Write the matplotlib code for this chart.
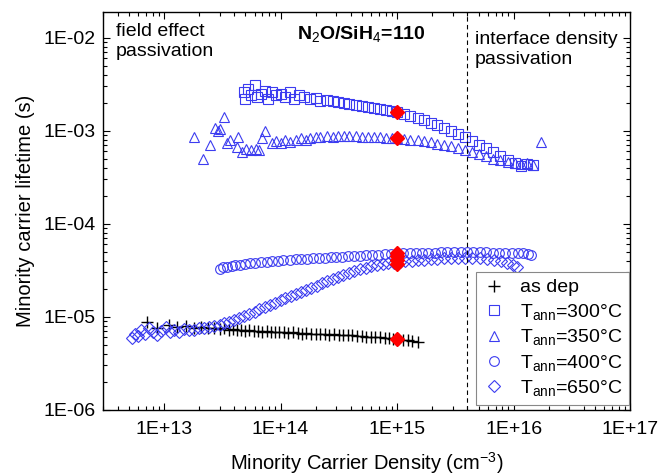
import numpy as np
import matplotlib
matplotlib.use("Agg")
import matplotlib.pyplot as plt
from matplotlib.ticker import FixedLocator, LogLocator, FuncFormatter, NullFormatter

plt.rcParams['font.family'] = ['Liberation Sans', 'DejaVu Sans']
plt.rcParams['mathtext.fontset'] = 'custom'
plt.rcParams['mathtext.rm'] = 'Liberation Sans'
plt.rcParams['mathtext.it'] = 'Liberation Sans:italic'
plt.rcParams['mathtext.bf'] = 'Liberation Sans:bold'

# as deposited
x_asdep = [7.2e12, 8.8e12, 1.1e13, 1.3e13, 1.55e13, 1.8e13, 2.1e13, 2.4e13, 2.7e13, 3.0e13,
           3.3e13, 3.6e13, 3.9e13, 4.2e13, 4.6e13, 5.0e13, 5.4e13, 5.9e13, 6.4e13, 7.0e13,
           7.6e13, 8.3e13, 9.0e13, 9.8e13, 1.07e14, 1.17e14, 1.28e14, 1.4e14, 1.53e14, 1.67e14,
           1.83e14, 2.0e14, 2.2e14, 2.4e14, 2.63e14, 2.88e14, 3.15e14, 3.45e14, 3.78e14, 4.14e14,
           4.53e14, 4.96e14, 5.43e14, 5.95e14, 6.5e14, 7.1e14, 7.8e14, 8.5e14, 9.3e14, 1.02e15,
           1.12e15, 1.23e15, 1.35e15, 1.5e15]
y_asdep = [8.9e-6, 7.6e-6, 8.2e-6, 7.7e-6, 8.0e-6, 7.6e-6, 7.8e-6, 7.5e-6, 7.6e-6, 7.4e-6,
           7.5e-6, 7.3e-6, 7.4e-6, 7.2e-6, 7.3e-6, 7.1e-6, 7.2e-6, 7.0e-6, 7.1e-6, 6.9e-6,
           7.0e-6, 6.9e-6, 6.8e-6, 6.9e-6, 6.8e-6, 6.7e-6, 6.8e-6, 6.7e-6, 6.6e-6, 6.7e-6,
           6.6e-6, 6.5e-6, 6.6e-6, 6.5e-6, 6.4e-6, 6.5e-6, 6.4e-6, 6.3e-6, 6.4e-6, 6.3e-6,
           6.2e-6, 6.2e-6, 6.1e-6, 6.1e-6, 6.0e-6, 6.0e-6, 5.9e-6, 5.9e-6, 5.8e-6, 5.8e-6,
           5.7e-6, 5.6e-6, 5.5e-6, 5.3e-6]

# Tann = 300 C
x_300 = [4.9e13, 5.0e13, 5.3e13, 5.6e13, 6.0e13, 6.3e13, 6.8e13, 7.3e13, 7.8e13, 8.5e13,
         9.2e13, 1.0e14, 1.1e14, 1.2e14, 1.3e14, 1.45e14, 1.6e14, 1.8e14, 2.0e14, 2.2e14,
         2.5e14, 2.8e14, 3.1e14, 3.5e14, 3.9e14, 4.4e14, 5.0e14, 5.6e14, 6.3e14, 7.1e14,
         8.0e14, 9.0e14, 1.0e15, 1.15e15, 1.3e15, 1.5e15, 1.7e15, 1.95e15, 2.2e15, 2.5e15,
         2.9e15, 3.3e15, 3.8e15, 4.4e15, 5.0e15, 5.8e15, 6.7e15, 7.7e15, 8.9e15, 1.02e16,
         1.15e16, 1.3e16, 1.45e16]
y_300 = [2.6e-3, 2.2e-3, 2.8e-3, 2.4e-3, 3.1e-3, 2.3e-3, 2.5e-3, 2.7e-3, 2.2e-3, 2.6e-3,
         2.4e-3, 2.5e-3, 2.3e-3, 2.6e-3, 2.2e-3, 2.4e-3, 2.3e-3, 2.2e-3, 2.25e-3, 2.1e-3,
         2.15e-3, 2.1e-3, 2.05e-3, 2.0e-3, 1.95e-3, 1.9e-3, 1.85e-3, 1.8e-3, 1.75e-3, 1.7e-3,
         1.66e-3, 1.62e-3, 1.6e-3, 1.52e-3, 1.45e-3, 1.37e-3, 1.3e-3, 1.22e-3, 1.15e-3, 1.08e-3,
         1.0e-3, 9.3e-4, 8.5e-4, 7.8e-4, 7.1e-4, 6.5e-4, 5.9e-4, 5.3e-4, 4.8e-4, 4.5e-4,
         4.2e-4, 4.4e-4, 4.3e-4]

# Tann = 350 C
x_350 = [1.8e13, 2.15e13, 2.47e13, 2.73e13, 2.9e13, 3.05e13, 3.25e13, 3.45e13, 3.7e13, 4.2e13,
         4.3e13, 4.7e13, 5.1e13, 5.6e13, 6.2e13, 6.6e13, 7.0e13, 7.4e13, 8.4e13, 9.2e13,
         1.0e14, 1.1e14, 1.2e14, 1.35e14, 1.5e14, 1.65e14, 1.8e14, 2.0e14, 2.2e14, 2.5e14,
         2.8e14, 3.1e14, 3.5e14, 3.9e14, 4.4e14, 5.0e14, 5.6e14, 6.3e14, 7.1e14, 8.0e14,
         9.0e14, 1.0e15, 1.15e15, 1.3e15, 1.5e15, 1.7e15, 1.95e15, 2.2e15, 2.5e15, 2.9e15,
         3.3e15, 3.8e15, 4.4e15, 5.0e15, 5.8e15, 6.7e15, 7.7e15, 8.9e15, 1.02e16, 1.15e16,
         1.3e16, 1.45e16, 1.7e16]
y_350 = [8.6e-4, 5.0e-4, 7.1e-4, 1.08e-3, 9.9e-4, 1.05e-3, 1.41e-3, 7.4e-4, 8.0e-4, 6.7e-4,
         8.6e-4, 5.9e-4, 6.4e-4, 6.2e-4, 6.3e-4, 6.2e-4, 8.4e-4, 1.0e-3, 7.4e-4, 7.8e-4,
         7.4e-4, 7.9e-4, 7.6e-4, 8.0e-4, 8.3e-4, 7.9e-4, 8.4e-4, 8.5e-4, 8.6e-4, 8.7e-4,
         8.6e-4, 8.8e-4, 8.7e-4, 8.8e-4, 8.7e-4, 8.6e-4, 8.6e-4, 8.5e-4, 8.5e-4, 8.4e-4,
         8.4e-4, 8.3e-4, 8.2e-4, 8.0e-4, 7.9e-4, 7.7e-4, 7.5e-4, 7.3e-4, 7.0e-4, 6.8e-4,
         6.5e-4, 6.2e-4, 5.9e-4, 5.6e-4, 5.3e-4, 5.0e-4, 4.8e-4, 4.6e-4, 4.5e-4, 4.4e-4,
         4.5e-4, 4.3e-4, 7.6e-4]

# Tann = 400 C
x_400 = [3.0e13, 3.2e13, 3.5e13, 3.8e13, 4.1e13, 4.5e13, 5.0e13, 5.5e13, 6.1e13, 6.8e13,
         7.6e13, 8.5e13, 9.5e13, 1.06e14, 1.2e14, 1.35e14, 1.5e14, 1.7e14, 1.9e14, 2.15e14,
         2.4e14, 2.7e14, 3.0e14, 3.4e14, 3.8e14, 4.3e14, 4.8e14, 5.4e14, 6.1e14, 6.9e14,
         7.8e14, 8.8e14, 1.0e15, 1.13e15, 1.28e15, 1.45e15, 1.65e15, 1.85e15, 2.1e15, 2.4e15,
         2.7e15, 3.1e15, 3.5e15, 4.0e15, 4.5e15, 5.1e15, 5.8e15, 6.6e15, 7.5e15, 8.5e15,
         9.6e15, 1.08e16, 1.2e16, 1.32e16, 1.4e16]
y_400 = [3.3e-5, 3.4e-5, 3.4e-5, 3.5e-5, 3.6e-5, 3.6e-5, 3.7e-5, 3.8e-5, 3.8e-5, 3.9e-5,
         3.9e-5, 4.0e-5, 4.0e-5, 4.1e-5, 4.1e-5, 4.2e-5, 4.2e-5, 4.2e-5, 4.3e-5, 4.3e-5,
         4.3e-5, 4.4e-5, 4.4e-5, 4.4e-5, 4.5e-5, 4.5e-5, 4.5e-5, 4.6e-5, 4.6e-5, 4.6e-5,
         4.7e-5, 4.7e-5, 4.7e-5, 4.8e-5, 4.8e-5, 4.8e-5, 4.9e-5, 4.9e-5, 4.9e-5, 5.0e-5,
         5.0e-5, 5.0e-5, 5.0e-5, 5.0e-5, 5.0e-5, 5.0e-5, 5.0e-5, 4.9e-5, 4.9e-5, 4.9e-5,
         4.8e-5, 4.8e-5, 4.8e-5, 4.7e-5, 4.6e-5]

# Tann = 650 C
x_650 = [5.3e12, 5.6e12, 6.0e12, 6.4e12, 6.9e12, 7.4e12, 8.0e12, 8.7e12, 9.5e12, 1.04e13,
         1.12e13, 1.22e13, 1.35e13, 1.5e13, 1.65e13, 1.8e13, 2.0e13, 2.2e13, 2.45e13, 2.7e13,
         3.0e13, 3.3e13, 3.6e13, 4.0e13, 4.4e13, 4.9e13, 5.4e13, 6.0e13, 6.6e13, 7.3e13,
         8.1e13, 9.0e13, 1.0e14, 1.1e14, 1.22e14, 1.35e14, 1.5e14, 1.66e14, 1.84e14, 2.04e14,
         2.26e14, 2.5e14, 2.8e14, 3.1e14, 3.45e14, 3.85e14, 4.3e14, 4.8e14, 5.4e14, 6.0e14,
         6.7e14, 7.5e14, 8.4e14, 9.4e14, 1.05e15, 1.18e15, 1.33e15, 1.5e15, 1.7e15, 1.95e15,
         2.2e15, 2.5e15, 2.9e15, 3.3e15, 3.8e15, 4.4e15, 5.1e15, 5.9e15, 6.8e15, 7.8e15,
         8.8e15, 9.8e15, 1.07e16]
y_650 = [5.9e-6, 6.6e-6, 6.2e-6, 7.2e-6, 6.5e-6, 7.6e-6, 6.8e-6, 6.4e-6, 7.1e-6, 7.7e-6,
         6.9e-6, 7.3e-6, 6.8e-6, 7.4e-6, 7.2e-6, 7.3e-6, 7.5e-6, 7.6e-6, 7.8e-6, 8.0e-6,
         8.2e-6, 8.5e-6, 8.8e-6, 9.2e-6, 9.6e-6, 1.01e-5, 1.07e-5, 1.13e-5, 1.2e-5, 1.27e-5,
         1.34e-5, 1.42e-5, 1.5e-5, 1.58e-5, 1.67e-5, 1.76e-5, 1.86e-5, 1.96e-5, 2.06e-5, 2.17e-5,
         2.3e-5, 2.42e-5, 2.56e-5, 2.7e-5, 2.84e-5, 2.98e-5, 3.12e-5, 3.25e-5, 3.37e-5, 3.48e-5,
         3.58e-5, 3.67e-5, 3.75e-5, 3.82e-5, 3.88e-5, 3.95e-5, 4.0e-5, 4.06e-5, 4.12e-5, 4.18e-5,
         4.22e-5, 4.26e-5, 4.3e-5, 4.32e-5, 4.33e-5, 4.32e-5, 4.28e-5, 4.2e-5, 4.1e-5, 3.95e-5,
         3.8e-5, 3.6e-5, 3.4e-5]

# highlighted points at 1E+15
x_mark = [1e15, 1e15, 1e15, 1e15, 1e15, 1e15, 1e15]
y_mark = [1.6e-3, 8.3e-4, 4.9e-5, 4.5e-5, 4.1e-5, 3.7e-5, 5.8e-6]

x_border = 4.0e15

blue = '#3c3cf0'

fig = plt.figure(figsize=(6.6, 4.76), dpi=100)
ax = fig.add_axes([0.156, 0.139, 0.799, 0.836])

ax.plot(x_asdep, y_asdep, ls='none', marker='+', ms=8, mew=1.0, color='black', label='as dep')
ax.plot(x_300, y_300, ls='none', marker='s', ms=6.5, mfc='none', mec=blue, mew=0.8,
        label=r'T$_{\rm ann}$=300°C')
ax.plot(x_350, y_350, ls='none', marker='^', ms=7.5, mfc='none', mec=blue, mew=0.8,
        label=r'T$_{\rm ann}$=350°C')
ax.plot(x_400, y_400, ls='none', marker='o', ms=7, mfc='none', mec=blue, mew=0.8,
        label=r'T$_{\rm ann}$=400°C')
ax.plot(x_650, y_650, ls='none', marker='D', ms=6.5, mfc='none', mec=blue, mew=0.8,
        label=r'T$_{\rm ann}$=650°C')
ax.plot(x_mark, y_mark, ls='none', marker='D', ms=7.5, color='red', mec='red', zorder=5)

ax.axvline(x_border, color='black', ls=(0, (4, 3)), lw=0.8)

ax.set_xscale('log')
ax.set_yscale('log')
ax.set_xlim(3.0e12, 1.0e17)
ax.set_ylim(1e-6, 1.9e-2)

sci = FuncFormatter(lambda v, p: "1E%+03d" % int(round(np.log10(v))))
ax.xaxis.set_major_locator(FixedLocator([1e13, 1e14, 1e15, 1e16, 1e17]))
ax.yaxis.set_major_locator(FixedLocator([1e-6, 1e-5, 1e-4, 1e-3, 1e-2]))
ax.xaxis.set_major_formatter(sci)
ax.yaxis.set_major_formatter(sci)
ax.xaxis.set_minor_locator(LogLocator(base=10, subs=np.arange(2, 10), numticks=20))
ax.yaxis.set_minor_locator(LogLocator(base=10, subs=np.arange(2, 10), numticks=20))
ax.xaxis.set_minor_formatter(NullFormatter())
ax.yaxis.set_minor_formatter(NullFormatter())
ax.tick_params(which='both', direction='in', top=True, right=True, labelsize=14, width=0.8)
ax.tick_params(which='major', length=5)
ax.tick_params(which='minor', length=3)
ax.tick_params(axis='x', pad=8)
ax.tick_params(axis='y', pad=5)
for s in ax.spines.values():
    s.set_linewidth(1.0)

ax.set_xlabel(r'Minority Carrier Density (cm$^{-3}$)', fontsize=14.5, labelpad=9)
ax.set_ylabel('Minority carrier lifetime (s)', fontsize=14.5, labelpad=6)

ax.text(0.025, 0.972, 'field effect\npassivation', transform=ax.transAxes,
        fontsize=14, va='top', ha='left', linespacing=1.2)
ax.text(0.705, 0.952, 'interface density\npassivation', transform=ax.transAxes,
        fontsize=14, va='top', ha='left', linespacing=1.2)
ax.text(0.49, 0.945, r'N$_2$O/SiH$_4$=110', transform=ax.transAxes,
        fontsize=14, fontweight='bold', va='center', ha='center')

leg = ax.legend(loc='lower right', bbox_to_anchor=(0.997, 0.012), fontsize=14,
                numpoints=1, handlelength=1.2, handletextpad=0.7, borderpad=0.35,
                labelspacing=0.28, fancybox=False, framealpha=1, edgecolor='#888888',
                borderaxespad=0)
leg.get_frame().set_linewidth(0.8)

fig.savefig('out.png', dpi=100)
